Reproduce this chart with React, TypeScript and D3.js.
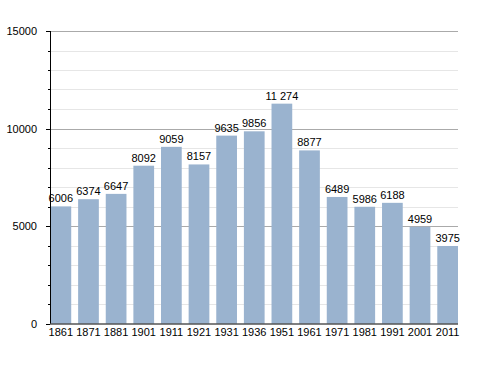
import React, { useEffect, useRef } from "react"
import * as d3 from "d3"

const years = ["1861", "1871", "1881", "1901", "1911", "1921", "1931", "1936", "1951", "1961", "1971", "1981", "1991", "2001", "2011"]
const population = [6006, 6374, 6647, 8092, 9059, 8157, 9635, 9856, 11274, 8877, 6489, 5986, 6188, 4959, 3975]
const majorTicks = [0, 5000, 10000, 15000]
const minorTicks = d3.range(0, 15001, 1000)

const fmt = (v: number) => (v >= 10000 ? d3.format(",")(v).replace(",", " ") : String(v))

export default function App() {
  const ref = useRef<SVGSVGElement>(null)

  useEffect(() => {
    const svg = d3.select(ref.current)
    svg.selectAll("*").remove()
    const left = 50, right = 458, top = 31, bottom = 323.5

    const x = d3.scaleBand().domain(years).range([left + 0.5, right]).paddingInner(0.25).paddingOuter(0)
    const y = d3.scaleLinear().domain([0, 15000]).range([bottom, top])

    const g = svg.append("g").style("font-family", "'Liberation Sans', Arial, sans-serif").style("font-size", "11px")

    // minor grid
    g.selectAll(".minor").data(minorTicks.filter(t => t % 5000 !== 0)).join("line")
      .attr("x1", left).attr("x2", right).attr("y1", d => Math.round(y(d)) + 0.5).attr("y2", d => Math.round(y(d)) + 0.5)
      .attr("stroke", "#e6e6e6")
    // major grid
    g.selectAll(".major").data(majorTicks.filter(t => t > 0)).join("line")
      .attr("x1", left).attr("x2", right).attr("y1", d => Math.round(y(d)) + 0.5).attr("y2", d => Math.round(y(d)) + 0.5)
      .attr("stroke", "#aaaaaa")

    // bars
    g.selectAll("rect").data(population).join("rect")
      .attr("x", (d, i) => x(years[i])!).attr("width", x.bandwidth())
      .attr("y", d => y(d)).attr("height", d => bottom - y(d))
      .attr("fill", "#9ab3cf")

    // value labels
    g.selectAll(".val").data(population).join("text")
      .attr("x", (d, i) => x(years[i])! + x.bandwidth() / 2).attr("y", d => y(d) - 4)
      .attr("text-anchor", "middle").attr("fill", "#000").text(d => fmt(d))

    // y axis
    g.append("line").attr("x1", left + 0.5).attr("x2", left + 0.5).attr("y1", top).attr("y2", bottom).attr("stroke", "#000")
    g.selectAll(".mt").data(minorTicks).join("line")
      .attr("x1", d => (d % 5000 === 0 ? left - 4 : left - 2)).attr("x2", left)
      .attr("y1", d => Math.round(y(d)) + 0.5).attr("y2", d => Math.round(y(d)) + 0.5).attr("stroke", "#000")
    g.selectAll(".yl").data(majorTicks).join("text")
      .attr("x", 37).attr("y", d => y(d) + 4).attr("text-anchor", "end").attr("fill", "#000").text(d => d)

    // x axis
    g.append("line").attr("x1", left).attr("x2", right).attr("y1", bottom + 0.5).attr("y2", bottom + 0.5).attr("stroke", "#000")
    g.selectAll(".xl").data(years).join("text")
      .attr("x", d => x(d)! + x.bandwidth() / 2).attr("y", bottom + 12)
      .attr("text-anchor", "middle").attr("fill", "#000").text(d => d)
  }, [])

  return (
    <svg ref={ref} width={488} height={373} style={{ position: "absolute", left: 0, top: 0, background: "#fff" }}></svg>
  )
}
